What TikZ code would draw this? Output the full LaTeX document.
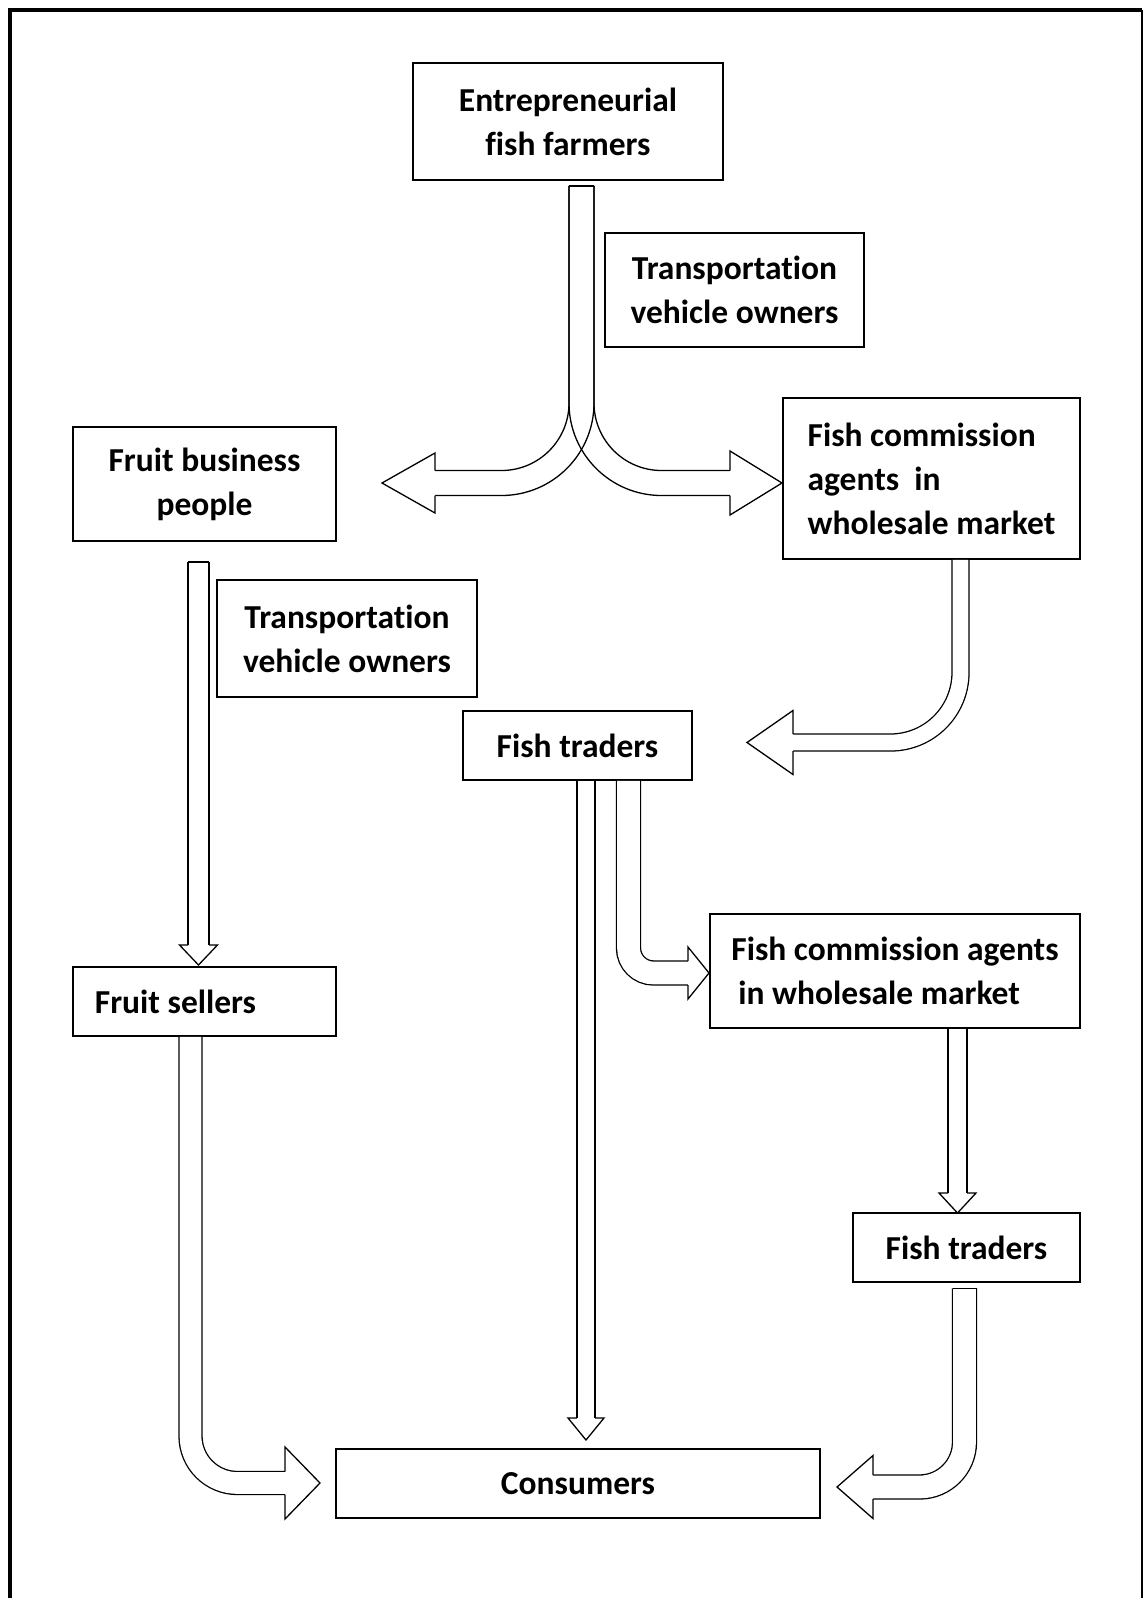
\documentclass[tikz,border=0pt]{standalone}
\usepackage{fontspec}
\setmainfont{Carlito}[Ligatures=NoCommon]
\tikzset{
  blk/.style={draw=black,line width=1.8pt,fill=white,inner sep=0pt,
              font=\fontsize{33.5}{44}\selectfont\bfseries,align=center},
  blkleft/.style={blk,align=left},
  sz/.style 2 args={minimum width=#1pt,minimum height=#2pt},
  edge/.style={draw=black,line width=1.3pt},
  shaft/.style={line width=1.3pt,draw=black,double=white,double distance=#1pt},
}
\newcommand{\bhead}[5]{%
  \begin{scope}[shift={(#1)},rotate=#2]
    \fill[white] (0,0) -- (-#3,#4) -- (-#3,-#4) -- cycle;
    \draw[edge] (-#3,#5) -- (-#3,#4) -- (0,0) -- (-#3,-#4) -- (-#3,-#5);
  \end{scope}}

\begin{document}
\begin{tikzpicture}[x=1pt,y=1pt]
  \useasboundingbox (0,0) rectangle (1144,-1598);
  \draw[line width=3.5pt] (10,-1598) -- (10,-10) -- (1142,-10);
  \draw[line width=2pt] (1142,-10) -- (1142,-1598);

  \node[blk,sz={310}{117}] (EFF)  at (568,-121.5)   {Entrepreneurial\\fish farmers};
  \node[blk,sz={259}{114}] (TVO1) at (734.5,-290)   {Transportation\\vehicle owners};
  \node[blkleft,sz={297}{161}] (FCA1) at (931.5,-478.5) {Fish commission\\agents\ \ in\\wholesale market};
  \node[blk,sz={263}{114}] (FBP)  at (204.5,-484)   {Fruit business\\people};
  \node[blk,sz={260}{117}] (TVO2) at (347,-638.5)   {Transportation\\vehicle owners};
  \node[blk,sz={229}{69}]  (FT1)  at (577.5,-745.5) {Fish traders};
  \node[blkleft,sz={370}{114}] (FCA2) at (895,-971) {Fish commission agents\\\hspace*{7pt}in wholesale market};
  \node[blk,sz={263}{69}]  (FS)   at (204.5,-1001.5) {Fruit sellers\hspace*{58pt}};
  \node[blk,sz={227}{69}]  (FT2)  at (966.5,-1247.5) {Fish traders};
  \node[blk,sz={484}{69}]  (CON)  at (578,-1483.5)  {Consumers};

  \coordinate (tipAL) at (382,-483);
  \coordinate (tipAR) at (782,-483);
  \coordinate (tipB)  at (198.5,-965);
  \coordinate (tipC)  at (320,-1483);
  \coordinate (tipD)  at (747,-742.5);
  \coordinate (tipE)  at (586,-1440);
  \coordinate (tipF)  at (709,-973);
  \coordinate (tipG)  at (957.5,-1213);
  \coordinate (tipH)  at (837,-1487);

  % split arrow from the farmers
  \draw[edge] ([shift={(1,-5)}]EFF.south) -- ([shift={(26,-5)}]EFF.south);
  \draw[edge,rounded corners=67.5pt] ([shift={(1,-5)}]EFF.south) |- ([shift={(53,12.5)}]tipAL);
  \draw[edge,rounded corners=92.5pt] ([shift={(26,-5)}]EFF.south) |- ([shift={(53,-12.5)}]tipAL);
  \draw[edge,rounded corners=67.5pt] ([shift={(26,-5)}]EFF.south) |- ([shift={(-52,12.5)}]tipAR);
  \draw[edge,rounded corners=92.5pt] ([shift={(1,-5)}]EFF.south) |- ([shift={(-52,-12.5)}]tipAR);
  \bhead{tipAL}{180}{53}{30}{12.5}
  \bhead{tipAR}{0}{52}{32}{12.5}

  \draw[shaft=19.7] ([shift={(-6,-20)}]FBP.south) -- ([yshift=20]tipB);
  \draw[edge] ([shift={(-16.5,-20)}]FBP.south) -- ([shift={(4.5,-20)}]FBP.south);
  \bhead{tipB}{-90}{20}{19}{10.5}

  \draw[shaft=21.7,rounded corners=47pt] ([xshift=-14]FS.south) |- ([xshift=-35]tipC);
  \bhead{tipC}{0}{35}{36}{11.5}

  \draw[shaft=15.7,rounded corners=70pt] ([xshift=29]FCA1.south) |- ([xshift=46]tipD);
  \bhead{tipD}{180}{46}{32}{8.5}

  \draw[shaft=16.7] ([xshift=8.5]FT1.south) -- ([yshift=22]tipE);
  \bhead{tipE}{-90}{22}{18}{9}

  \draw[shaft=22.7,rounded corners=25pt] ([xshift=51]FT1.south) |- ([xshift=-21]tipF);
  \bhead{tipF}{0}{21}{26}{12}

  \draw[shaft=17.7] ([xshift=62.5]FCA2.south) -- ([yshift=20]tipG);
  \bhead{tipG}{-90}{20}{18.5}{9.5}

  \draw[shaft=22.7,rounded corners=45pt] ([shift={(-2,-5.5)}]FT2.south) |- ([xshift=36]tipH);
  \draw[edge] ([shift={(-14,-5.5)}]FT2.south) -- ([shift={(10,-5.5)}]FT2.south);
  \bhead{tipH}{180}{36}{31.5}{12}
\end{tikzpicture}
\end{document}
